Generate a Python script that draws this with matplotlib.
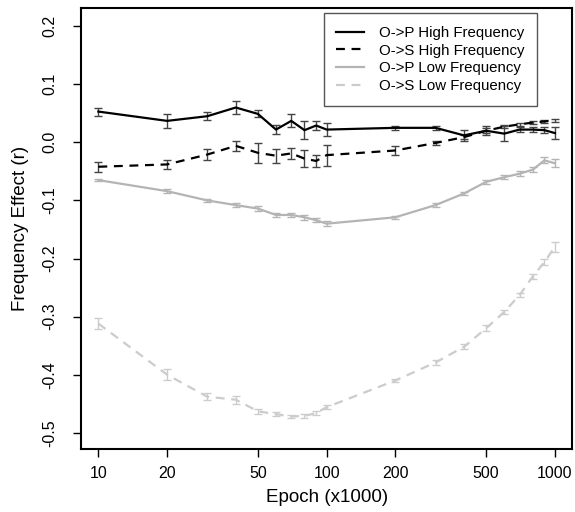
import matplotlib
matplotlib.use('Agg')
import matplotlib.pyplot as plt
from matplotlib.lines import Line2D
import numpy as np

plt.rcParams['font.family'] = ['Liberation Sans', 'DejaVu Sans']

epochs = [10, 20, 30, 40, 50, 60, 70, 80, 90, 100, 200, 300, 400, 500, 600, 700, 800, 900, 1000]

op_high = [0.053, 0.037, 0.045, 0.060, 0.049, 0.022, 0.037, 0.021, 0.029, 0.022,
           0.025, 0.025, 0.012, 0.020, 0.015, 0.022, 0.022, 0.021, 0.016]
op_high_err = [0.007, 0.012, 0.007, 0.012, 0.006, 0.008, 0.011, 0.015, 0.008, 0.011,
               0.004, 0.004, 0.010, 0.008, 0.013, 0.005, 0.005, 0.005, 0.010]

os_high = [-0.042, -0.038, -0.021, -0.006, -0.018, -0.023, -0.019, -0.028, -0.032, -0.022,
           -0.014, -0.001, 0.009, 0.020, 0.027, 0.031, 0.034, 0.036, 0.038]
os_high_err = [0.009, 0.008, 0.010, 0.009, 0.017, 0.012, 0.010, 0.015, 0.011, 0.018,
               0.007, 0.004, 0.004, 0.004, 0.003, 0.003, 0.003, 0.003, 0.003]

op_low = [-0.065, -0.084, -0.100, -0.108, -0.114, -0.125, -0.125, -0.129, -0.134, -0.140,
          -0.129, -0.108, -0.088, -0.068, -0.060, -0.054, -0.047, -0.031, -0.036]
op_low_err = [0.002, 0.003, 0.003, 0.004, 0.005, 0.004, 0.004, 0.004, 0.003, 0.004,
              0.003, 0.004, 0.003, 0.003, 0.003, 0.004, 0.004, 0.005, 0.007]

os_low = [-0.312, -0.400, -0.438, -0.443, -0.463, -0.468, -0.472, -0.471, -0.466, -0.456,
          -0.410, -0.379, -0.352, -0.320, -0.292, -0.263, -0.231, -0.206, -0.180]
os_low_err = [0.010, 0.010, 0.006, 0.007, 0.004, 0.004, 0.003, 0.003, 0.004, 0.003,
              0.003, 0.004, 0.004, 0.005, 0.004, 0.004, 0.004, 0.005, 0.009]

series = [
    ('O->P High Frequency', op_high, op_high_err, 'black', '-', '#444444'),
    ('O->S High Frequency', os_high, os_high_err, 'black', (0, (4, 3)), '#444444'),
    ('O->P Low Frequency', op_low, op_low_err, '#b4b4b4', '-', '#b4b4b4'),
    ('O->S Low Frequency', os_low, os_low_err, '#cccccc', (0, (4, 3)), '#cccccc'),
]

fig = plt.figure(figsize=(5.75, 5.12), dpi=100)
ax = fig.add_axes([0.141, 0.123, 0.854, 0.861])

handles = []
for label, values, errors, color, style, ecolor in series:
    ax.errorbar(epochs, values, yerr=errors, color=color, linestyle=style, linewidth=1.6,
                ecolor=ecolor, elinewidth=1.0, capsize=3, capthick=1.0)
    handles.append(Line2D([], [], color=color, linestyle=style, linewidth=1.6, label=label))

ax.set_xscale('log')
ax.set_xlim(8.4, 1190)
ax.set_ylim(-0.528, 0.231)
ax.set_xticks([10, 20, 50, 100, 200, 500, 1000])
ax.set_xticklabels(['10', '20', '50', '100', '200', '500', '1000'])
ax.minorticks_off()
ax.set_yticks([-0.5, -0.4, -0.3, -0.2, -0.1, 0.0, 0.1, 0.2])
ax.set_yticklabels(['-0.5', '-0.4', '-0.3', '-0.2', '-0.1', '0.0', '0.1', '0.2'],
                   rotation=90, va='center')
ax.tick_params(axis='both', direction='out', length=6, width=1, labelsize=11.5)
ax.tick_params(axis='x', pad=6)
ax.tick_params(axis='y', pad=11)
for spine in ax.spines.values():
    spine.set_linewidth(1.5)

ax.set_xlabel('Epoch (x1000)', fontsize=13.5, labelpad=6)
ax.set_ylabel('Frequency Effect (r)', fontsize=13.5, labelpad=10)

legend = ax.legend(handles=handles, loc='upper right', bbox_to_anchor=(0.929, 0.989),
                   borderaxespad=0, fontsize=10.8, fancybox=False, framealpha=1,
                   edgecolor='#555555', handlelength=1.85, handletextpad=1.0,
                   borderpad=0.85, labelspacing=0.25)
legend.get_frame().set_linewidth(1.0)

fig.savefig('out.png', dpi=100)
